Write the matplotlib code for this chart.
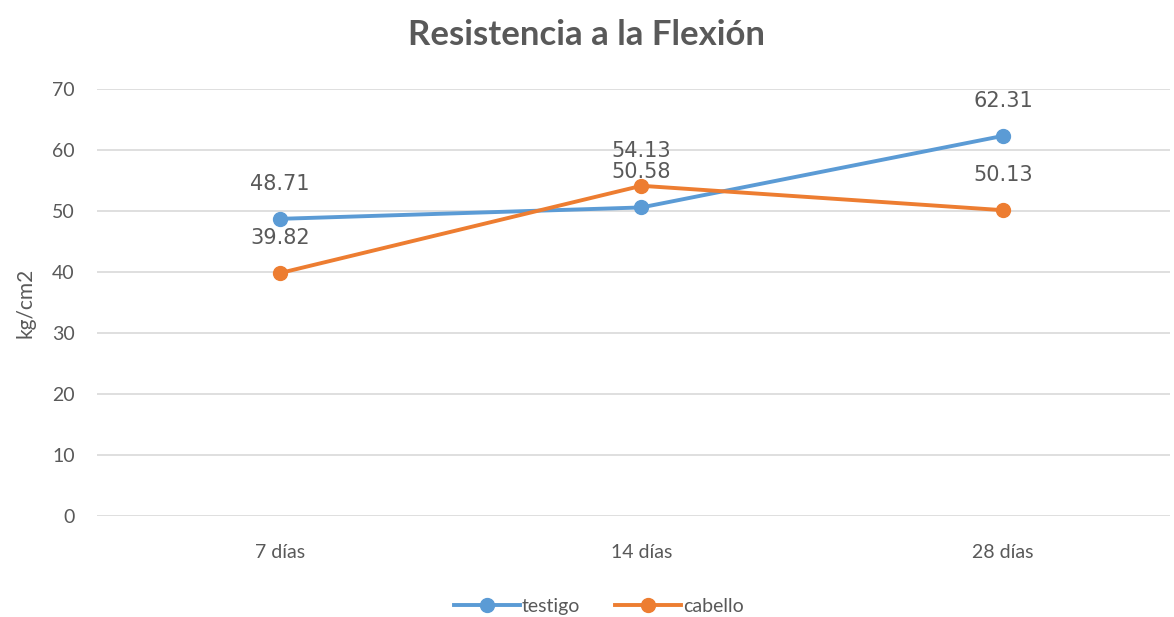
import numpy as np
import matplotlib.pyplot as plt

plt.rcParams['font.family'] = ['Lato', 'DejaVu Sans']

# Datos del gráfico
categorias = ['7 días', '14 días', '28 días']
testigo = [48.71, 50.58, 62.31]
cabello = [39.82, 54.13, 50.13]

azul = '#5B9BD5'
naranja = '#ED7D31'
gris = '#595959'

fig = plt.figure(figsize=(11.74, 6.17), dpi=100)
ax = fig.add_axes([0.0826, 0.1637, 0.914, 0.6921])

x = np.arange(len(categorias))
ax.plot(x, testigo, color=azul, lw=2.8, marker='o', ms=10, label='testigo', zorder=3)
ax.plot(x, cabello, color=naranja, lw=2.8, marker='o', ms=10, label='cabello', zorder=3)

# Etiquetas de datos
for xi, v in zip(x, testigo):
    ax.annotate(f'{v:.2f}', (xi, v), xytext=(0, 18), textcoords='offset points',
                ha='center', va='bottom', fontsize=15, color=gris, family='DejaVu Sans')
for xi, v in zip(x, cabello):
    ax.annotate(f'{v:.2f}', (xi, v), xytext=(0, 18), textcoords='offset points',
                ha='center', va='bottom', fontsize=15, color=gris, family='DejaVu Sans')

ax.set_xlim(-0.506, 2.462)
ax.set_ylim(0, 70)
ax.set_yticks(np.arange(0, 71, 10))
ax.set_xticks(x)
ax.set_xticklabels(categorias)
ax.grid(axis='y', color='#D9D9D9', lw=1.2)
ax.set_axisbelow(True)
for s in ax.spines.values():
    s.set_visible(False)
ax.tick_params(length=0, labelsize=14, colors=gris, pad=16)
ax.tick_params(axis='x', pad=20)

ax.set_ylabel('kg/cm2', fontsize=15, color=gris, labelpad=12)
fig.suptitle('Resistencia a la Flexión', fontsize=25, fontweight='bold', color=gris, y=0.97)

fig.legend(loc='lower center', bbox_to_anchor=(0.51, -0.025), ncol=2, frameon=False,
           fontsize=14, labelcolor=gris, handlelength=3.4, handletextpad=0.1, columnspacing=1.8)

fig.savefig('out.png', dpi=100, facecolor='white')
